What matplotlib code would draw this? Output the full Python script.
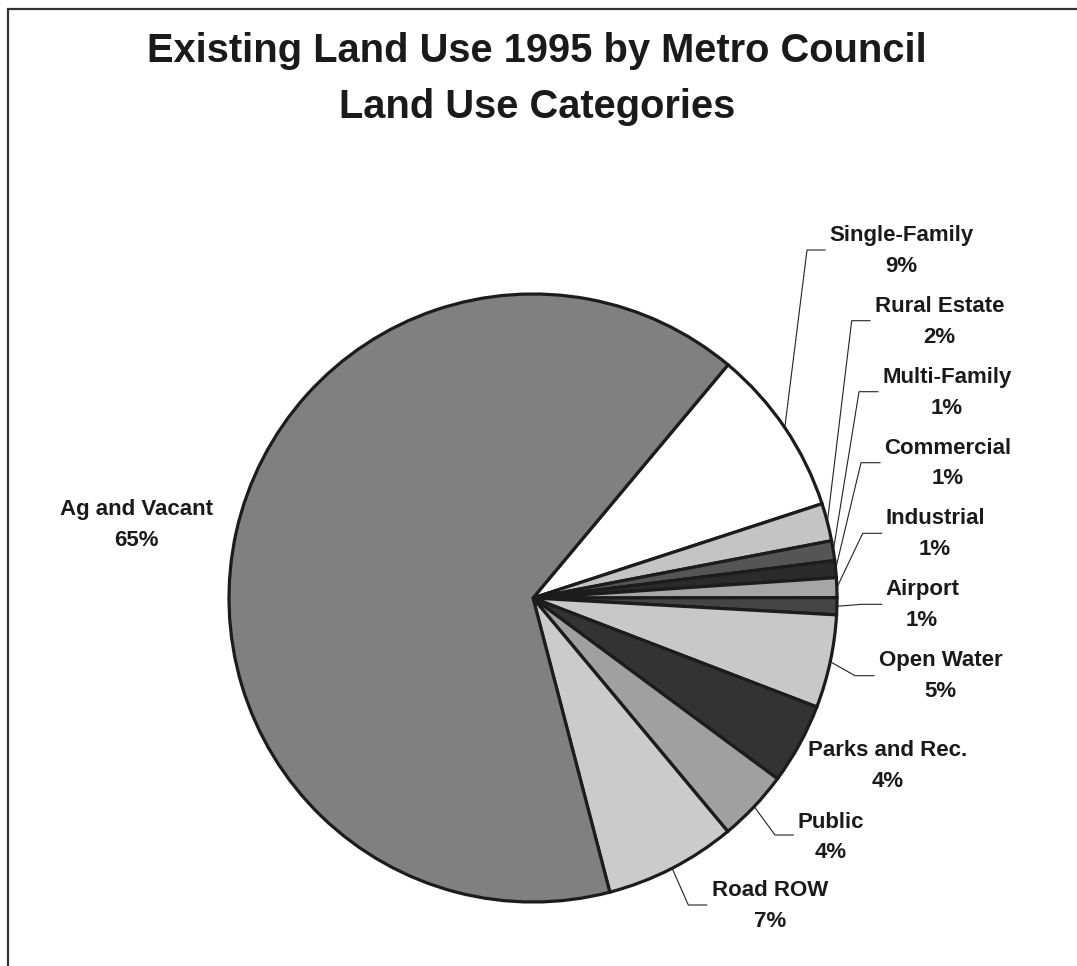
import matplotlib
matplotlib.use("Agg")
import matplotlib.pyplot as plt
import numpy as np

# ---- data ----
categories = ["Single-Family", "Rural Estate", "Multi-Family", "Commercial",
              "Industrial", "Airport", "Open Water", "Parks and Rec.",
              "Public", "Road ROW", "Ag and Vacant"]
shares = [8.9, 2.0, 1.05, 0.9, 1.05, 0.9, 4.95, 4.3, 3.8, 7.0, 65.15]
pct_labels = ["9%", "2%", "1%", "1%", "1%", "1%", "5%", "4%", "4%", "7%", "65%"]
colors = ["#ffffff", "#c4c4c4", "#555555", "#2b2b2b", "#a6a6a6", "#454545",
          "#c8c8c8", "#333333", "#a0a0a0", "#cbcbcb", "#808080"]
title = "Existing Land Use 1995 by Metro Council\nLand Use Categories"

# ---- layout (pixel coordinates, y measured from top) ----
W, H = 1077, 966
label_pos = {
    "Single-Family": (901, 251),
    "Rural Estate": (939.5, 322),
    "Multi-Family": (947, 393),
    "Commercial": (948, 463.5),
    "Industrial": (935, 534),
    "Airport": (922, 605),
    "Open Water": (940.5, 676),
    "Parks and Rec.": (888, 766),
    "Public": (831, 837.5),
    "Road ROW": (770, 906),
    "Ag and Vacant": (136, 525),
}
# leader: (elbow, end) in pixel coords
leaders = {
    "Single-Family": ((807, 250), (825, 250)),
    "Rural Estate": ((851.7, 320.7), (870, 320.7)),
    "Multi-Family": ((859, 391.7), (878, 391.7)),
    "Commercial": ((861, 462.7), (880, 462.7)),
    "Industrial": ((862.7, 533.3), (881.7, 533.3)),
    "Airport": ((862, 604.3), (881.7, 604.3)),
    "Open Water": ((855, 675.7), (874, 675.7)),
    "Public": ((775, 835), (793.3, 835)),
    "Road ROW": ((688.3, 905), (706.7, 905)),
}

FONT = "Liberation Sans"
TXT = "#1a1a1a"

fig = plt.figure(figsize=(W / 100, H / 100), dpi=100)
ax = fig.add_axes([0, 0, 1, 1])
cx, cy, R = 533, H - 598, 304

wedges, _ = ax.pie(shares, colors=colors, startangle=50.1, counterclock=False,
                   center=(cx, cy), radius=R,
                   wedgeprops=dict(edgecolor="#1c1c1c", linewidth=2.3,
                                   joinstyle="miter"))
ax.set_xlim(0, W)
ax.set_ylim(0, H)
ax.set_aspect("equal")
ax.axis("off")

for w, cat, pct in zip(wedges, categories, pct_labels):
    lx, ly = label_pos[cat]
    ax.text(lx, H - ly, f"{cat}\n{pct}", ha="center", va="center",
            fontsize=16.0, fontweight="bold", family=FONT, color=TXT,
            linespacing=1.6, multialignment="center")
    if cat in leaders:
        th = np.deg2rad((w.theta1 + w.theta2) / 2)
        sx, sy = cx + R * np.cos(th), cy + R * np.sin(th)
        (ex, ey), (fx, fy) = leaders[cat]
        ax.plot([sx, ex, fx], [sy, H - ey, H - fy], color="#222222",
                lw=0.8, solid_joinstyle="miter", zorder=0.5)

ax.text(537, H - 79, title, ha="center", va="center", fontsize=28.7,
        fontweight="bold", family=FONT, color=TXT, linespacing=1.62)

# chart frame (only top and left edges visible in the crop)
ax.plot([8, 8, W + 5], [-5, H - 9, H - 9], color="#333333", lw=1.6,
        clip_on=False, solid_joinstyle="miter")

fig.savefig("out.png", dpi=100, facecolor="white")
